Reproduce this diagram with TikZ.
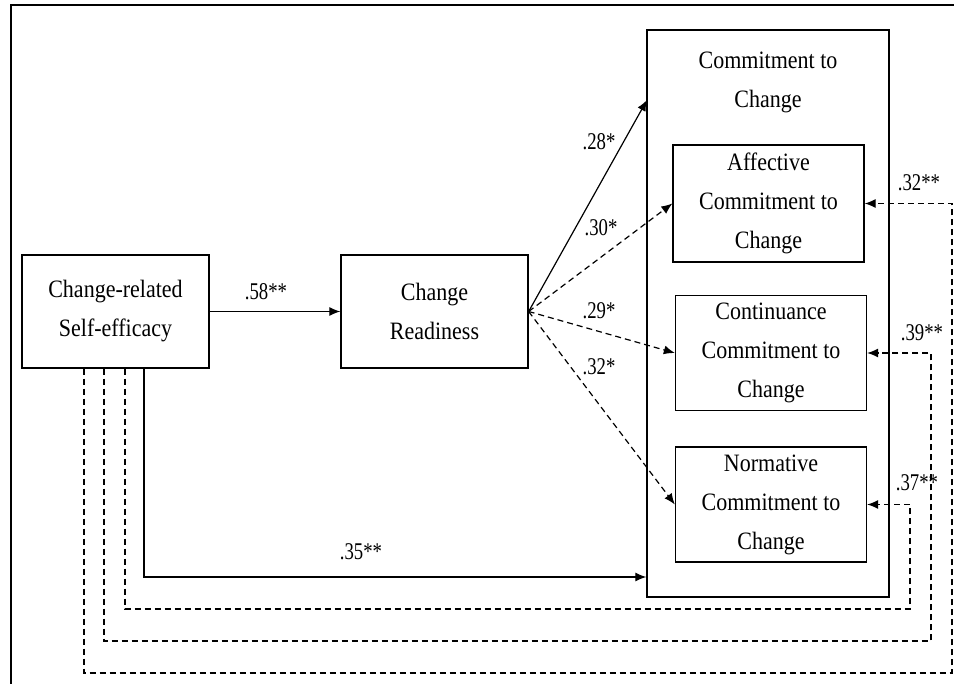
\documentclass[tikz,border=0pt]{standalone}
\usepackage{fontspec}
\setmainfont[FakeStretch=0.88]{Liberation Serif}
\newfontfamily\labfont[FakeStretch=0.78]{Liberation Serif}
\usetikzlibrary{arrows.meta}
\begin{document}
\begin{tikzpicture}[x=1pt,y=-1pt,>={Latex[length=11pt,width=9pt]},
  box/.style={draw,line width=1.3pt,align=center,inner sep=0pt,font=\fontsize{25}{39}\selectfont},
  lab/.style={inner sep=0pt,font=\labfont\fontsize{24}{28}\selectfont},
  solid line/.style={line width=1.2pt},
  dash line/.style={line width=1.2pt,dash pattern=on 6pt off 4pt}]
\useasboundingbox (0,0) rectangle (954,684);
\draw[line width=2pt] (11,684) -- (11,5) -- (954,5);
% boxes
\coordinate (p1) at (115.5,311.5);
\coordinate (p2) at (434.5,311.5);
\coordinate (p3) at (768,313.5);
\coordinate (p4) at (768.5,203.5);
\coordinate (p5) at (771,353);
\coordinate (p6) at (771,504.5);
\node[box,minimum width=187pt,minimum height=113pt] (se) at (p1) {Change-related\\Self-efficacy};
\node[box,minimum width=187pt,minimum height=113pt] (cr) at (p2) {Change\\Readiness};
\node[box,minimum width=242pt,minimum height=567pt] (ctc) at (p3) {};
\node[box,draw=none] (ctctitle) at (768,82) {Commitment to\\Change};
\node[box,minimum width=191pt,minimum height=117pt] (aff) at (p4) {Affective\\Commitment to\\Change};
\node[box,minimum width=191pt,minimum height=115pt] (con) at (p5) {Continuance\\Commitment to\\Change};
\node[box,minimum width=191pt,minimum height=115pt] (nor) at (p6) {Normative\\Commitment to\\Change};
% corners
\coordinate (t1) at (647,100);
\coordinate (c0) at (144,577);
\coordinate (d1) at (125,609);
\coordinate (e1) at (910,609);
\coordinate (d2) at (104,641);
\coordinate (e2) at (931,641);
\coordinate (d3) at (84,673);
\coordinate (e3) at (952,673);
% paths
\draw[solid line,->] (se.east) -- (cr.west);
\draw[solid line,->] (cr.east) -- (t1);
\draw[dash line,->] (cr.east) -- (aff.west);
\draw[dash line,->] (cr.east) -- (con.west);
\draw[dash line,->] (cr.east) -- (nor.west);
\draw[solid line,->] (se.south -| c0) |- (c0 -| ctc.west);
\draw[dash line,->] (se.south -| d1) -- (d1) -- (e1) |- (nor.east);
\draw[dash line,->] (se.south -| d2) -- (d2) -- (e2) |- (con.east);
\draw[dash line,->] (se.south -| d3) -- (d3) -- (e3) |- (aff.east);
% labels
\node[lab] (l58) at (266,292) {.58**};
\node[lab] (l35) at (361,552) {.35**};
\node[lab] (l28) at (599,142) {.28*};
\node[lab] (l30) at (601,228) {.30*};
\node[lab] (l29) at (599,311) {.29*};
\node[lab] (l32) at (599,367) {.32*};
\node[lab] (r32) at (919,183) {.32**};
\node[lab] (r39) at (922,333) {.39**};
\node[lab] (r37) at (917,483) {.37**};
\end{tikzpicture}
\end{document}
